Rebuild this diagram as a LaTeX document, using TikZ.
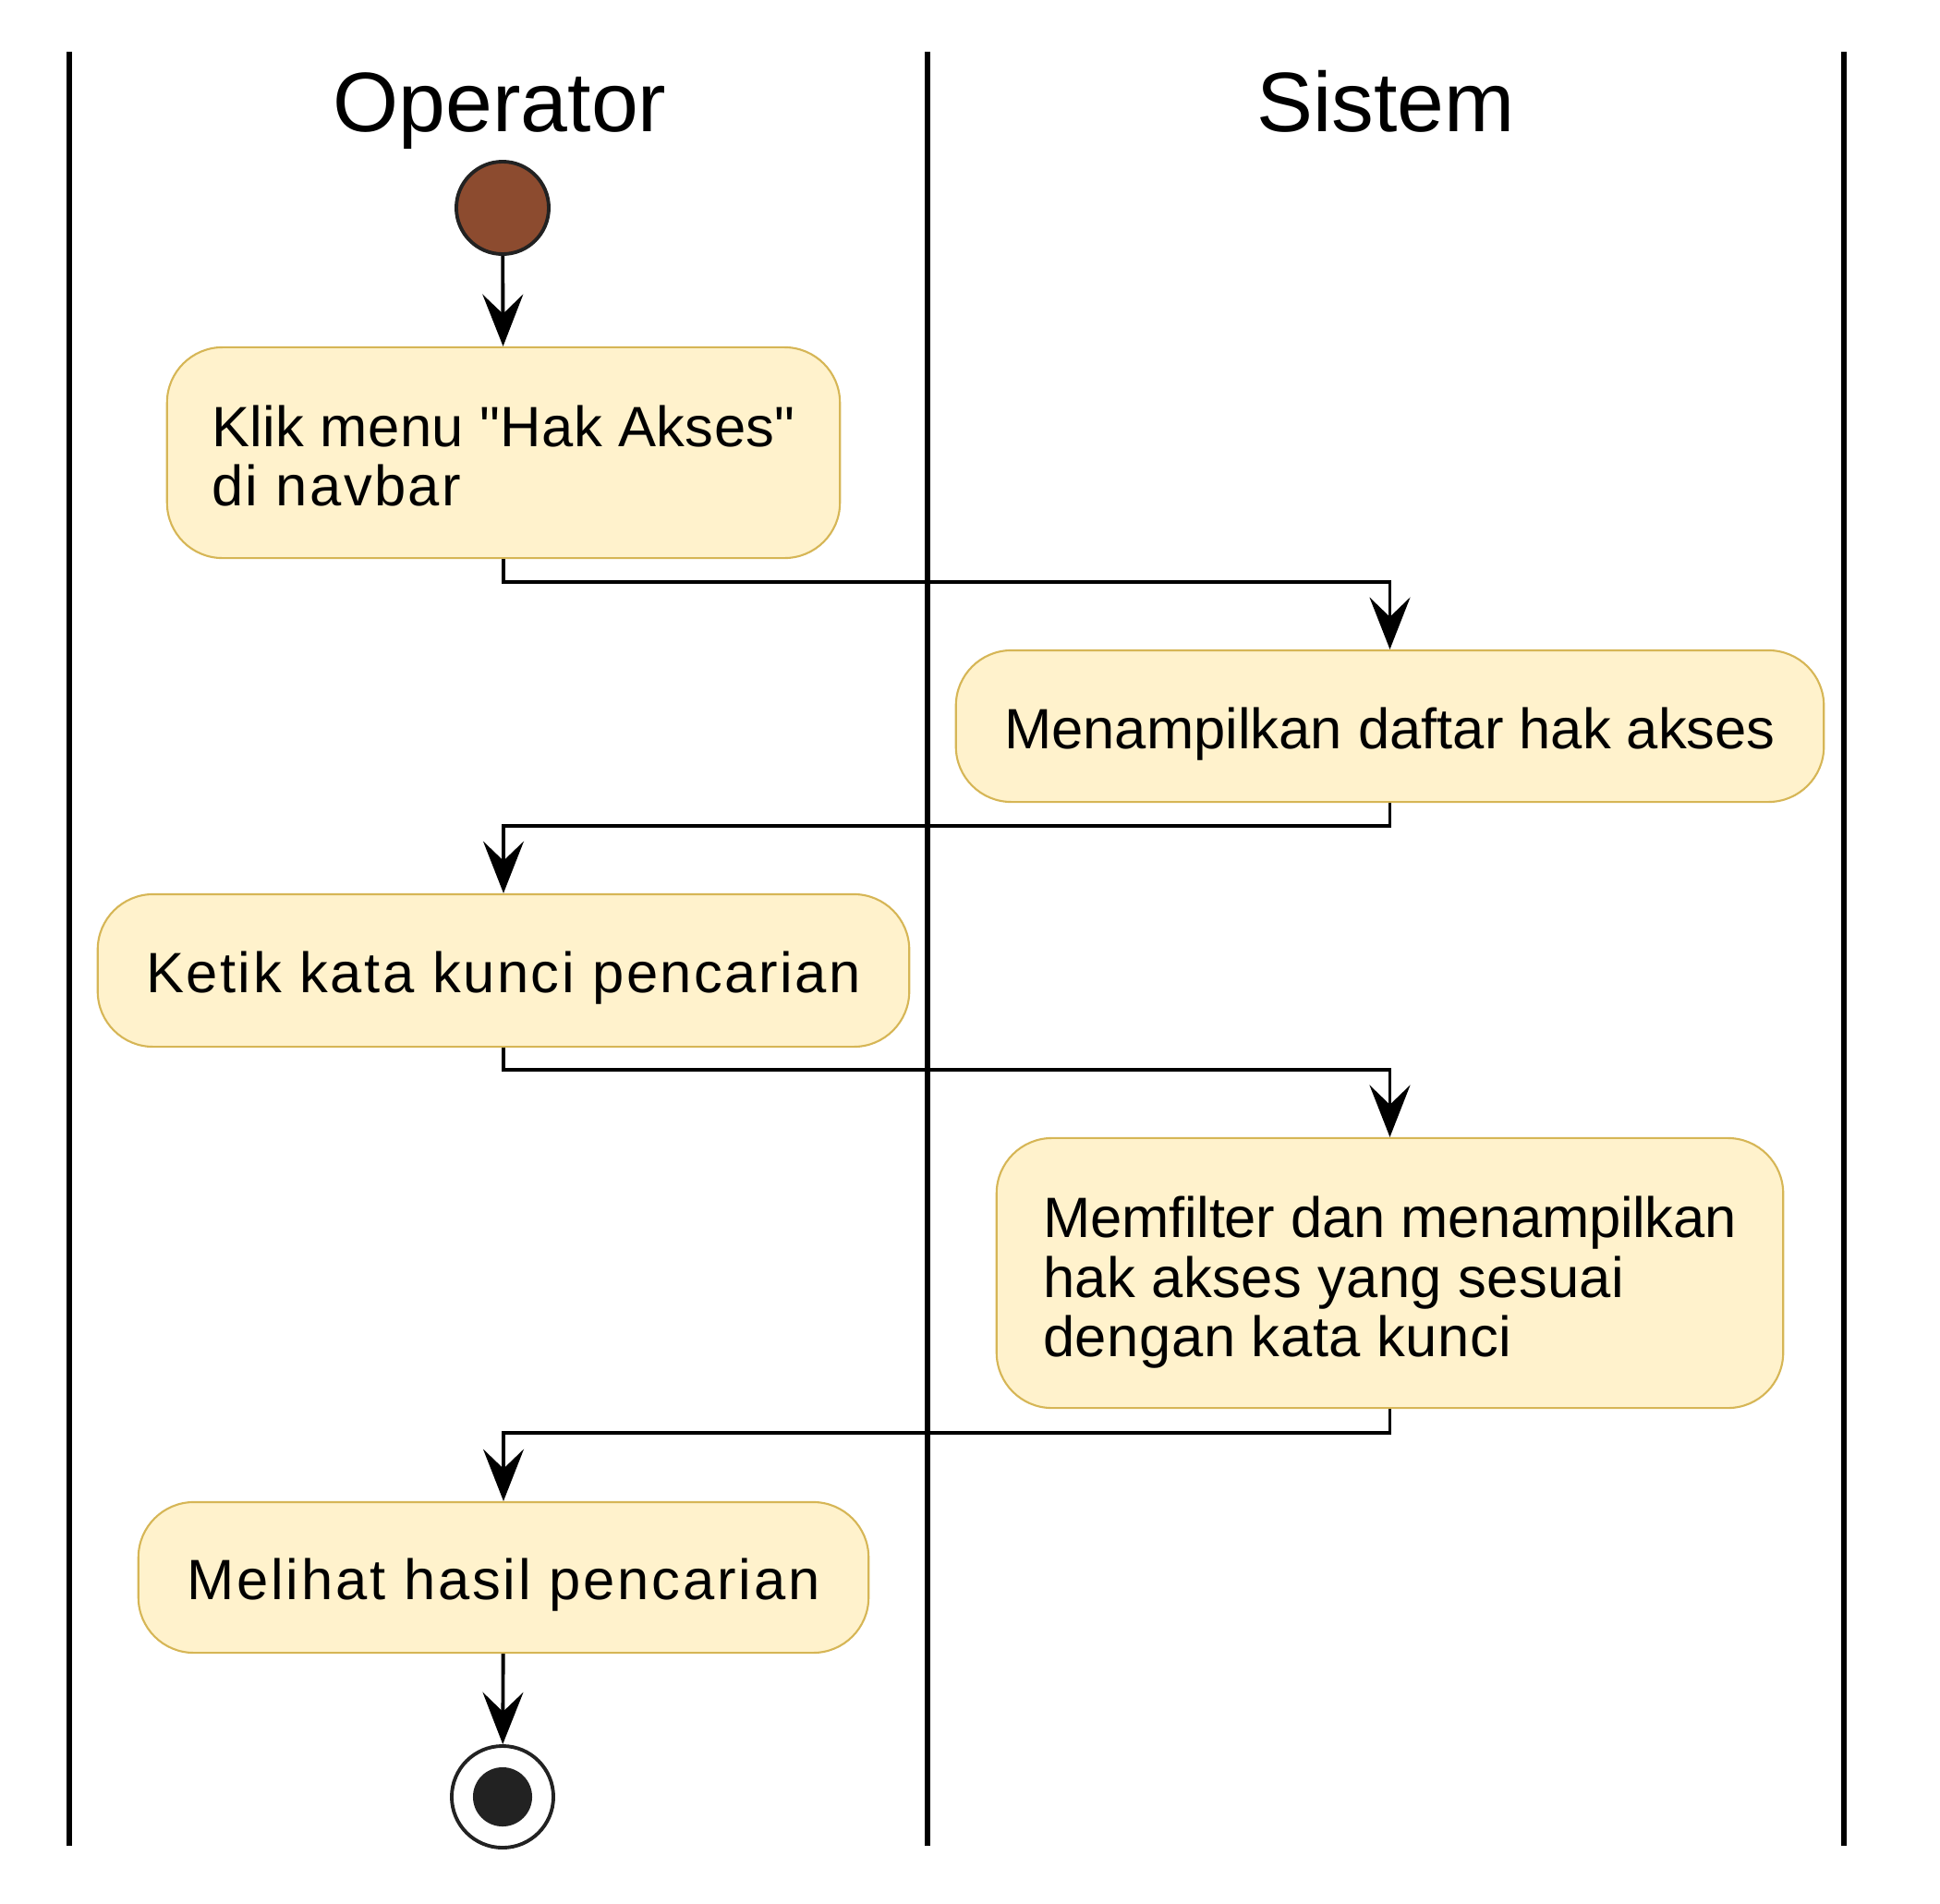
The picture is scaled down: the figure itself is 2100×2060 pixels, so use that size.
\documentclass[tikz,border=0pt]{standalone}
\usepackage{fontspec}
\setmainfont{Liberation Sans}[Ligatures=TeXOff]
\usetikzlibrary{arrows.meta,positioning}
\definecolor{actfill}{HTML}{FFF2CC}
\definecolor{actdraw}{HTML}{D6B656}
\definecolor{startfill}{HTML}{8C4B2F}
\definecolor{darkdot}{HTML}{222222}
% letter spacing for one line, and a strut that pushes the text down
\newcommand\spaced[2]{{\addfontfeature{LetterSpace=#1}#2}}
\newcommand\topgap[1]{\rule{0pt}{#1}}
\tikzset{
  activity/.style = {rectangle,draw=actdraw,fill=actfill,line width=0.6pt,rounded corners=0.6cm,align=left,
                     font=\fontsize{17.5}{18.3}\selectfont,inner sep=0pt},
  startnode/.style = {circle,draw=darkdot,fill=startfill,line width=1.1pt,minimum size=1cm,inner sep=0pt},
  endnode/.style   = {circle,draw=darkdot,fill=white,line width=1.1pt,minimum size=1.1cm,inner sep=0pt},
  enddot/.style    = {circle,fill=darkdot,minimum size=0.64cm,inner sep=0pt},
  lane/.style      = {line width=1.55pt},
  lanetitle/.style = {font=\fontsize{26}{30}\selectfont,anchor=base},
  flow/.style      = {-{Stealth[length=16pt,width=12.5pt,inset=6pt]},line width=1.1pt},
}
\begin{document}
\begin{tikzpicture}[x=0.01cm,y=-0.01cm]
\useasboundingbox (0,0) rectangle (2100,2060);
% swimlanes
\draw[lane] (75,56) -- (75,1998);
\draw[lane] (1004,56) -- (1004,1998);
\draw[lane] (1996,56) -- (1996,1998);
\node[lanetitle] (operator) at (541,142) {Operator};
\node[lanetitle] (sistem)   at (1500,142) {Sistem};
% activities
\node[startnode] (start) at (544,225) {};
\node[activity,minimum width=7.28cm,minimum height=2.28cm] (klik) at (545,490)
  {\topgap{14.8pt}\spaced{0.6}{Klik menu "Hak Akses"}\\\spaced{3.8}{di navbar}};
\node[activity,minimum width=9.39cm,minimum height=1.64cm] (tampil) at (1504.5,786)
  {\topgap{17.6pt}Menampilkan daftar hak akses};
\node[activity,minimum width=8.78cm,minimum height=1.65cm] (ketik) at (545,1050.5)
  {\topgap{17.4pt}\spaced{4.1}{Ketik kata kunci pencarian}};
\node[activity,minimum width=8.51cm,minimum height=2.92cm] (filter) at (1504.5,1378)
  {\topgap{18.6pt}\spaced{-0.4}{Memfilter dan menampilkan}\\\spaced{0.6}{hak akses yang sesuai}\\\spaced{0.9}{dengan kata kunci}};
\node[activity,minimum width=7.90cm,minimum height=1.63cm] (lihat) at (545,1707.5)
  {\topgap{17.5pt}\spaced{4.5}{Melihat hasil pencarian}};
\node[endnode] (stop) at (544,1945) {};
\node[enddot] (stopdot) at (stop.center) {};
% flows
\draw[flow] (start) -- (klik);
\draw[flow] (klik.south) -- ++(0,25) -| (tampil.north);
\draw[flow] (tampil.south) -- ++(0,25) -| (ketik.north);
\draw[flow] (ketik.south) -- ++(0,24) -| (filter.north);
\draw[flow] (filter.south) -- ++(0,26) -| (lihat.north);
\draw[flow] (lihat) -- (stop);
\end{tikzpicture}
\end{document}
